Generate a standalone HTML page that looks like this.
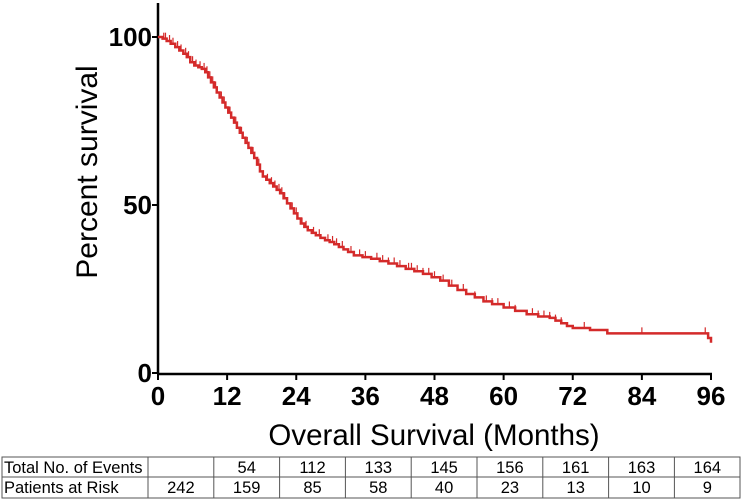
<!DOCTYPE html>
<html><head><meta charset="utf-8"><style>
body{margin:0;background:#fff;width:742px;height:503px;overflow:hidden;font-family:"Liberation Sans",Arial,sans-serif}
svg{position:absolute;left:0;top:0}
</style></head><body>
<svg id="chart" width="742" height="503" xmlns="http://www.w3.org/2000/svg"></svg>
<script>
const months=[0,0.8,1.5,2.2,3,3.7,4.4,5,5.6,6.3,7,7.6,8.2,8.7,9.2,9.7,10.2,10.7,11.2,11.7,12.2,12.7,13.2,13.7,14.2,14.7,15.2,15.7,16.2,16.7,17.2,17.7,18.2,18.8,19.4,20,20.6,21.2,21.8,22.4,23,23.6,24.2,24.8,25.4,26,26.7,27.4,28.2,29,29.8,30.6,31.4,32.2,33,34,35.5,37,38.5,40,41.5,43,44.5,46,47.5,49,50.5,52,53.5,55,56.5,58,60,62,64,66,68,69,70,71,72,75,78,95.5,96];
const survival=[100,99.5,98.8,98,97,96,95,94,92.5,91.5,91,90.5,89.5,88,86.5,85,83.5,82,80.5,79,77.5,76,74.5,73,71.5,70,68.5,67,65.5,64,62,60,58.5,57.5,56.5,55.5,54.5,53.5,52,50.5,49,47.5,46,44.5,43.5,42.5,41.7,41,40.2,39.5,39,38.3,37.5,36.8,36,35,34.5,34,33.3,32.6,31.8,31,30.3,29.5,28.5,27.5,26,24.7,23.5,22.5,21.3,20.5,19.5,18.5,17.5,16.8,16.4,15.6,14.8,14,13.4,12.8,11.8,10.4,9];
const censorMonths=[1,1.3,2,2.6,3.4,4,4.8,5.3,6,6.6,7.3,8,8.5,9,9.5,10,11,11.5,12.5,13.5,14.5,15.5,16.5,17.5,18.3,19,19.7,20.3,21,21.5,22,23.3,24,25,25.7,27,28,29.5,30.3,31,32,33.5,35,36,38,39,40,41,42,43.5,44,45,46,47,48,49.5,51,53,55,57,58,59,61,62,65,66,67,68,69,70,74,84,95];
const xTicks=[0,12,24,36,48,60,72,84,96];
const yTicks=[0,50,100];
const eventsRow=["Total No. of Events","","54","112","133","145","156","161","163","164"];
const riskRow=["Patients at Risk","242","159","85","58","40","23","13","10","9"];
const NS="http://www.w3.org/2000/svg";
const svg=document.getElementById('chart');
const X=m=>158+m*(711-158)/96;
const Y=v=>373-v*3.36;
function mk(t,a,p){const e=document.createElementNS(NS,t);for(const k in a)e.setAttribute(k,a[k]);(p||svg).appendChild(e);return e;}
function survAt(m){let s=survival[0];for(let i=0;i<months.length;i++){if(months[i]<=m)s=survival[i];}return s;}
let ax=mk('line',{x1:158,y1:3,x2:158,y2:374,stroke:'#000','stroke-width':2.5});

ax=mk('line',{x1:157,y1:374,x2:712,y2:374,stroke:'#000','stroke-width':2.5});

xTicks.forEach(t=>{
 const l=mk('line',{x1:X(t),y1:374,x2:X(t),y2:380,stroke:'#000','stroke-width':2});
 
 const tx=mk('text',{x:X(t),y:405,'text-anchor':'middle','font-size':26,'font-weight':'bold'});
 tx.textContent=t;
});
yTicks.forEach(t=>{
 const l=mk('line',{x1:152,y1:Y(t),x2:158,y2:Y(t),stroke:'#000','stroke-width':2});
 
 const tx=mk('text',{x:152,y:Y(t)+9,'text-anchor':'end','font-size':26,'font-weight':'bold'});
 tx.textContent=t;
});
let t1=mk('text',{x:0,y:0,transform:'translate(97,172) rotate(-90)','text-anchor':'middle','font-size':30});
t1.textContent='Percent survival';
let t2=mk('text',{x:434,y:445,'text-anchor':'middle','font-size':29.5});
t2.textContent='Overall Survival (Months)';
let d='M'+X(months[0])+','+Y(survival[0]);
for(let i=1;i<months.length;i++){d+=' H'+X(months[i])+' V'+Y(survival[i]);}
const path=mk('path',{d:d,fill:'none',stroke:'#d42a2a','stroke-width':2.5});

censorMonths.forEach(m=>{
 const c=mk('line',{x1:X(m),y1:Y(survAt(m)),x2:X(m),y2:Y(survAt(m))-6,stroke:'#d42a2a','stroke-width':1.2});
 
});
const tb=mk('g',{});
const colX=[2,148];for(let i=1;i<=9;i++)colX.push(148+i*65.8);
const rows=[eventsRow,riskRow];const rowY=[457,477,498];
mk('rect',{x:2,y:457,width:738,height:41,fill:'none',stroke:'#555','stroke-width':1},tb);
mk('line',{x1:2,y1:477,x2:740,y2:477,stroke:'#555','stroke-width':1},tb);
colX.slice(1,-1).forEach(x=>mk('line',{x1:x,y1:457,x2:x,y2:498,stroke:'#555','stroke-width':1},tb));
rows.forEach((r,ri)=>r.forEach((v,ci)=>{
 const first=ci===0;
 const tx=mk('text',{x:first?4:(colX[ci]+colX[ci+1])/2,y:rowY[ri]+16,'text-anchor':first?'start':'middle','font-size':16.5},tb);
 tx.textContent=v;
}));
</script>
</body></html>
